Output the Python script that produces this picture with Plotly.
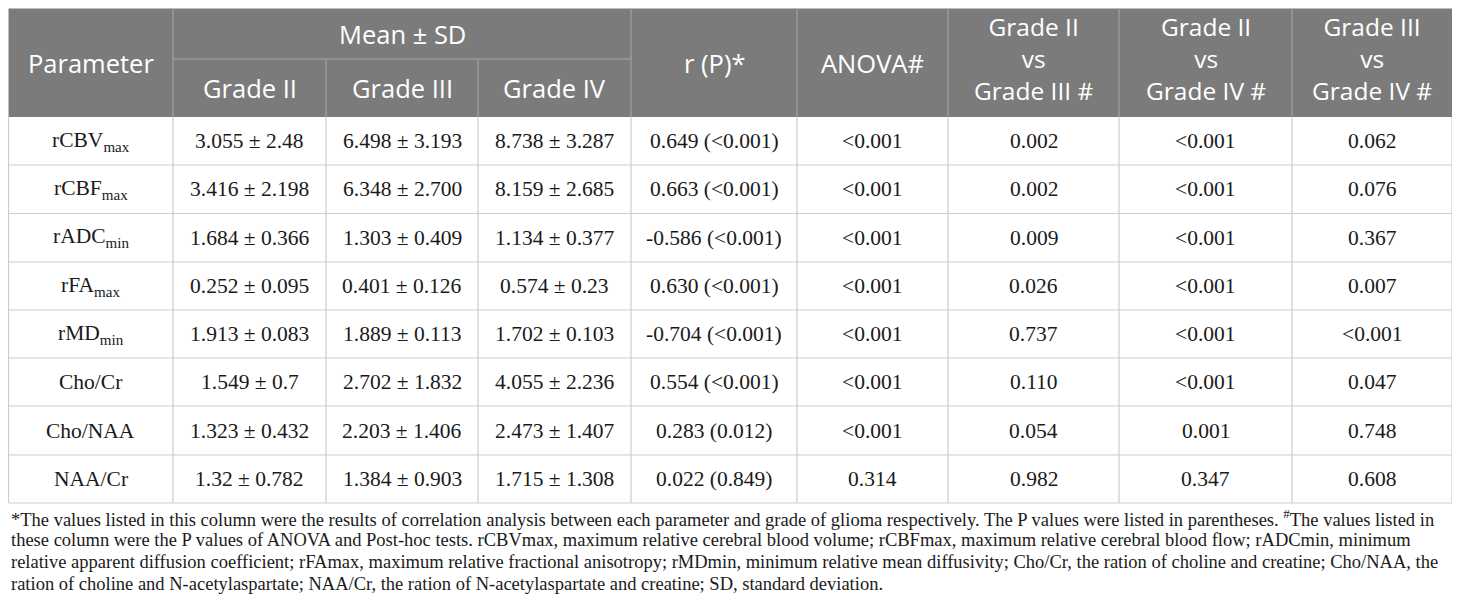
import plotly.graph_objects as go

# Table values
params = ['rCBV<sub>max</sub>', 'rCBF<sub>max</sub>', 'rADC<sub>min</sub>', 'rFA<sub>max</sub>',
          'rMD<sub>min</sub>', 'Cho/Cr', 'Cho/NAA', 'NAA/Cr']
grade2 = ['3.055 ± 2.48', '3.416 ± 2.198', '1.684 ± 0.366', '0.252 ± 0.095',
          '1.913 ± 0.083', '1.549 ± 0.7', '1.323 ± 0.432', '1.32 ± 0.782']
grade3 = ['6.498 ± 3.193', '6.348 ± 2.700', '1.303 ± 0.409', '0.401 ± 0.126',
          '1.889 ± 0.113', '2.702 ± 1.832', '2.203 ± 1.406', '1.384 ± 0.903']
grade4 = ['8.738 ± 3.287', '8.159 ± 2.685', '1.134 ± 0.377', '0.574 ± 0.23',
          '1.702 ± 0.103', '4.055 ± 2.236', '2.473 ± 1.407', '1.715 ± 1.308']
r_p = ['0.649 (<0.001)', '0.663 (<0.001)', '-0.586 (<0.001)', '0.630 (<0.001)',
       '-0.704 (<0.001)', '0.554 (<0.001)', '0.283 (0.012)', '0.022 (0.849)']
anova = ['<0.001', '<0.001', '<0.001', '<0.001', '<0.001', '<0.001', '<0.001', '0.314']
p_2v3 = ['0.002', '0.002', '0.009', '0.026', '0.737', '0.110', '0.054', '0.982']
p_2v4 = ['<0.001', '<0.001', '<0.001', '<0.001', '<0.001', '<0.001', '0.001', '0.347']
p_3v4 = ['0.062', '0.076', '0.367', '0.007', '<0.001', '0.047', '0.748', '0.608']

header_top = ['Parameter', 'Mean ± SD', 'r (P)*', 'ANOVA#',
              'Grade II<br>vs<br>Grade III #', 'Grade II<br>vs<br>Grade IV #',
              'Grade III<br>vs<br>Grade IV #']
header_sub = ['Grade II', 'Grade III', 'Grade IV']

footnote = [
    '*The values listed in this column were the results of correlation analysis between each parameter '
    'and grade of glioma respectively. The P values were listed in parentheses. <sup>#</sup>The values listed in',
    'these column were the P values of ANOVA and Post-hoc tests. rCBVmax, maximum relative cerebral blood '
    'volume; rCBFmax, maximum relative cerebral blood flow; rADCmin, minimum',
    'relative apparent diffusion coefficient; rFAmax, maximum relative fractional anisotropy; rMDmin, '
    'minimum relative mean diffusivity; Cho/Cr, the ration of choline and creatine; Cho/NAA, the',
    'ration of choline and N-acetylaspartate; NAA/Cr, the ration of N-acetylaspartate and creatine; '
    'SD, standard deviation.',
]

# layout grid (axis units = page pixels; the page body has an 8px margin)
col_edges = [8.5, 173, 326, 478, 631, 797, 948, 1119, 1292, 1452]
row_edges = [117, 165, 213.5, 262, 310, 358, 406, 455, 503]
head_top, head_mid = 8.5, 59

HEAD_BG = '#7b7b7b'
HEAD_LINE = '#a9a9a9'
GRID = '#cdcdcd'
SANS = 'Open Sans'
SERIF = 'Liberation Serif'

fig = go.Figure()
shapes = []
ann = []

# header background
shapes.append(dict(type='rect', x0=col_edges[0], x1=col_edges[-1], y0=head_top, y1=row_edges[0],
                   fillcolor=HEAD_BG, line=dict(width=0), layer='below'))
# header vertical lines
for i, x in enumerate(col_edges[1:-1], start=1):
    y_start = head_mid if i in (2, 3) else head_top
    shapes.append(dict(type='line', x0=x, x1=x, y0=y_start, y1=row_edges[0],
                       line=dict(color=HEAD_LINE, width=1)))
shapes.append(dict(type='line', x0=col_edges[1], x1=col_edges[4], y0=head_mid, y1=head_mid,
                   line=dict(color=HEAD_LINE, width=1)))

# body grid
for y in row_edges[1:]:
    shapes.append(dict(type='line', x0=col_edges[0], x1=col_edges[-1], y0=y, y1=y,
                       line=dict(color=GRID, width=1.2)))
for x in col_edges:
    shapes.append(dict(type='line', x0=x, x1=x, y0=row_edges[0], y1=row_edges[-1],
                       line=dict(color=GRID, width=1.2)))


def cx(i0, i1=None):
    i1 = i0 + 1 if i1 is None else i1
    return (col_edges[i0] + col_edges[i1]) / 2


head_font = dict(family=SANS, size=25.5, color='white')
full_mid = (head_top + row_edges[0]) / 2
ann.append(dict(x=cx(0), y=full_mid, text=header_top[0], font=head_font))
ann.append(dict(x=cx(1, 4), y=(head_top + head_mid) / 2, text=header_top[1], font=head_font))
for j, t in enumerate(header_sub):
    ann.append(dict(x=cx(1 + j), y=(head_mid + row_edges[0]) / 2, text=t, font=head_font))
for j, t in enumerate(header_top[2:]):
    multi = '<br>' in t
    ann.append(dict(x=cx(4 + j), y=full_mid - 4 if multi else full_mid, text=t,
                    font=dict(head_font, size=24.5) if multi else head_font))

body_font = dict(family=SERIF, size=21.5, color='#1a1a1a')
columns = [params, grade2, grade3, grade4, r_p, anova, p_2v3, p_2v4, p_3v4]
for c, col in enumerate(columns):
    for r, val in enumerate(col):
        ann.append(dict(x=cx(c), y=(row_edges[r] + row_edges[r + 1]) / 2, text=val, font=body_font))

for k, line in enumerate(footnote):
    ann.append(dict(x=col_edges[0], y=518 + 22 * k, text=line, xanchor='left',
                    font=dict(family=SERIF, size=18.5, color='#1a1a1a')))

for a in ann:
    a.update(xref='x', yref='y', showarrow=False)
    a.setdefault('xanchor', 'center')
    a.setdefault('yanchor', 'middle')

fig.update_layout(
    width=1452, height=607,
    margin=dict(l=0, r=0, t=0, b=0),
    paper_bgcolor='white', plot_bgcolor='white',
    xaxis=dict(range=[8, 1460], visible=False, fixedrange=True),
    yaxis=dict(range=[615, 8], visible=False, fixedrange=True),
    shapes=shapes, annotations=ann, showlegend=False,
)

fig.write_html('out.html', config={'displayModeBar': False})
